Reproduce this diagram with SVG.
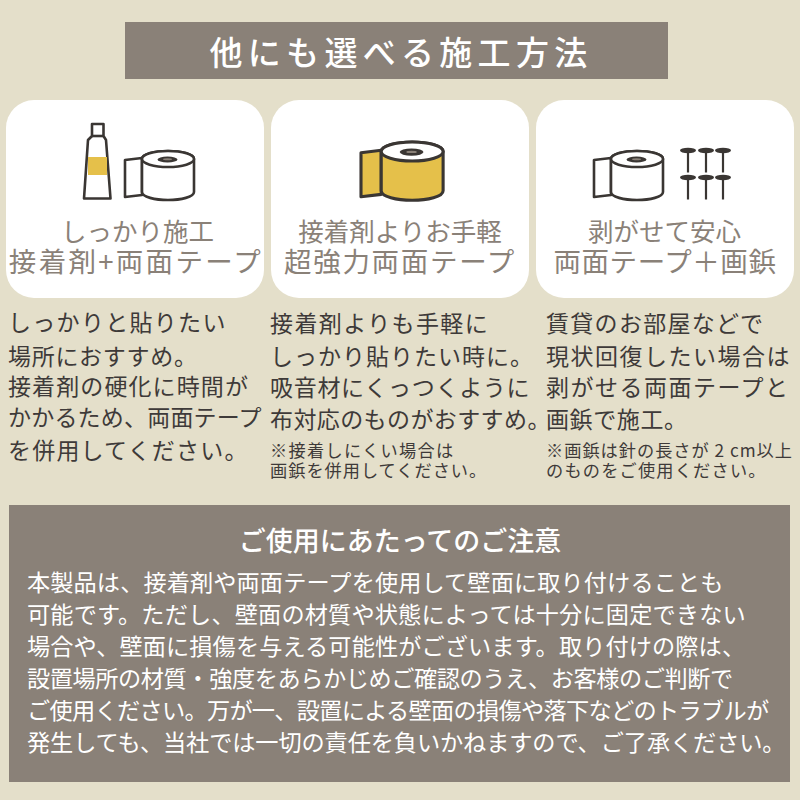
<svg xmlns="http://www.w3.org/2000/svg" width="800" height="800" viewBox="0 0 800 800">
<style>
text{font-family:"Noto Sans CJK JP","Noto Sans",sans-serif}
.card{fill:#fff}
.cap{fill:#8a8178;font-size:25.5px;text-anchor:middle}
.cap2{fill:#8a8178;font-size:27.5px;text-anchor:middle}
.body{fill:#3e3a39;font-size:23px}
.note{fill:#3e3a39;font-size:17.200px}
.warn{fill:#fff;font-size:23.200px}
.l{fill:#fff;stroke:#3a3633;stroke-width:2.6;stroke-linejoin:round}
.y{fill:#e5c04a}
.pin{fill:#3a3633}
.pinl{stroke:#3a3633;stroke-width:2.200}
</style>
<defs>
<g id="roll">
<path class="l" d="M0 9L17 7V44L0 46Z" style="fill:var(--f,#fff)"/>
<path class="l" d="M17 8C17 3 30 0 43 0C56 0 69 3 69 8V41C69 46 56 49 43 49C30 49 17 46 17 41Z" style="fill:var(--f,#fff)"/>
<ellipse class="l" cx="43" cy="8" rx="26" ry="8"/>
<ellipse cx="42.500" cy="8.500" rx="10" ry="3" fill="#3a3633"/>
<ellipse cx="42.500" cy="8.300" rx="4.500" ry="1" fill="#8a8178"/>
</g>
<g id="pin"><ellipse class="pin" cx="0" cy="0" rx="8" ry="2.700"/><line class="pinl" x1="0" y1="0" x2="0" y2="22"/></g>
</defs>
<rect width="800" height="800" fill="#e4dfca"/>
<g id="title"><rect x="125" y="22" width="543" height="57" fill="#8a8178"/>
<text x="401" y="65" fill="#fff" font-size="33" text-anchor="middle" letter-spacing="5.300" font-weight="500">他にも選べる施工方法</text></g>
<g id="card1"><rect class="card" x="6" y="100" width="258" height="198" rx="28"/>
<path class="l" d="M92 124H103.500V136L106 140L110.500 198.500H84L88 140L92 136Z"/>
<rect class="y" x="88" y="157" width="19" height="18"/>
<path d="M92 136H103.500" stroke="#3a3633" stroke-width="2.600"/>
<use href="#roll" x="125" y="151"/>
<text class="cap" x="137.500" y="241">しっかり施工</text>
<text class="cap2" x="136" y="272" letter-spacing="2.300">接着剤+両面テープ</text></g>
<g id="card2"><rect class="card" x="271" y="100" width="258" height="198" rx="28"/>
<use href="#roll" transform="translate(361 142) scale(1.190)" style="--f:#e5c04a"/>
<text class="cap" x="400" y="241">接着剤よりお手軽</text>
<text class="cap2" x="400" y="272" letter-spacing="1.700">超強力両面テープ</text></g>
<g id="card3"><rect class="card" x="536" y="100" width="258" height="198" rx="28"/>
<use href="#roll" x="594" y="151"/>
<use href="#pin" x="688" y="150.500"/><use href="#pin" x="706" y="150.500"/><use href="#pin" x="723" y="150.500"/>
<use href="#pin" x="688" y="177.500"/><use href="#pin" x="706" y="177.500"/><use href="#pin" x="723" y="177.500"/>
<text class="cap" x="664.500" y="241">剥がせて安心</text>
<text class="cap2" x="665" y="272" letter-spacing=".6">両面テープ＋画鋲</text></g>
<g id="text1">
<text class="body" x="8" y="331" letter-spacing="1.300">しっかりと貼りたい</text>
<text class="body" x="8" y="365" letter-spacing=".7">場所におすすめ。</text>
<text class="body" x="8" y="395" letter-spacing="1.100">接着剤の硬化に時間が</text>
<text class="body" x="8" y="426" letter-spacing=".2">かかるため、両面テープ</text>
<text class="body" x="8" y="459" letter-spacing="1.200">を併用してください。</text></g>
<g id="text2">
<text class="body" x="270" y="332" letter-spacing="1.400">接着剤よりも手軽に</text>
<text class="body" x="270" y="365" letter-spacing="1">しっかり貼りたい時に。</text>
<text class="body" x="270" y="396" letter-spacing=".7">吸音材にくっつくように</text>
<text class="body" x="270" y="428" letter-spacing=".4">布対応のものがおすすめ。</text>
<text class="note" x="270" y="457" letter-spacing="1.300">※接着しにくい場合は</text>
<text class="note" x="270" y="477" letter-spacing="1">画鋲を併用してください。</text></g>
<g id="text3">
<text class="body" x="546" y="332" letter-spacing="1.300">賃貸のお部屋などで</text>
<text class="body" x="546" y="365" letter-spacing="1.500">現状回復したい場合は</text>
<text class="body" x="546" y="396" letter-spacing="1.500">剥がせる両面テープと</text>
<text class="body" x="546" y="428" letter-spacing=".6">画鋲で施工。</text>
<text class="note" x="546" y="457" letter-spacing="1">※画鋲は針の長さが 2 cm以上</text>
<text class="note" x="546" y="477" letter-spacing="1.200">のものをご使用ください。</text></g>
<g id="notice"><rect x="9" y="505" width="781" height="277" fill="#8a8178"/>
<text x="400" y="551" fill="#fff" font-size="27" text-anchor="middle" font-weight="500">ご使用にあたってのご注意</text>
<text class="warn" x="27" y="590.500" letter-spacing=".1">本製品は、接着剤や両面テープを使用して壁面に取り付けることも</text>
<text class="warn" x="27" y="622.500" letter-spacing=".15">可能です。ただし、壁面の材質や状態によっては十分に固定できない</text>
<text class="warn" x="27" y="654.500" letter-spacing=".1">場合や、壁面に損傷を与える可能性がございます。取り付けの際は、</text>
<text class="warn" x="27" y="686.500" letter-spacing="-.42">設置場所の材質・強度をあらかじめご確認のうえ、お客様のご判断で</text>
<text class="warn" x="27" y="718.500" letter-spacing="-.7">ご使用ください。万が一、設置による壁面の損傷や落下などのトラブルが</text>
<text class="warn" x="27" y="750.500" letter-spacing="-.1">発生しても、当社では一切の責任を負いかねますので、ご了承ください。</text></g>
</svg>
